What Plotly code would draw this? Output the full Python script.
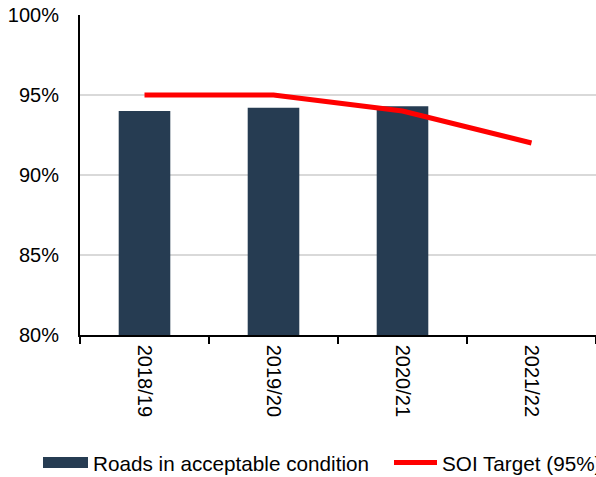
import plotly.graph_objects as go

# Financial years shown on the category axis
years = ["2018/19", "2019/20", "2020/21", "2021/22"]

# Share of roads in acceptable condition (%), no result yet for 2021/22
roads_acceptable = [94.0, 94.2, 94.3, None]

# Statement of Intent target (%)
soi_target = [95, 95, 94, 92]

y_ticks = [80, 85, 90, 95, 100]

BAR_COLOR = "#263c52"
LINE_COLOR = "#ff0000"
FONT = "Liberation Sans, Arial, sans-serif"

W, H = 596, 477
ML, MR, MT, MB = 80, 0, 15, 142
PW, PH = W - ML - MR, H - MT - MB


def px_x(px):
    return (px - ML) / PW


def px_y(py):
    return (H - MB - py) / PH


fig = go.Figure()

fig.add_trace(go.Bar(
    x=years,
    y=roads_acceptable,
    name="Roads in acceptable condition",
    marker=dict(color=BAR_COLOR, line=dict(width=0)),
    width=0.4,
    showlegend=False,
))

fig.add_trace(go.Scatter(
    x=years,
    y=soi_target,
    name="SOI Target (95%)",
    mode="lines",
    line=dict(color=LINE_COLOR, width=5),
    showlegend=False,
))

# Legend drawn below the axis labels
shapes = [
    dict(type="rect", xref="paper", yref="paper",
         x0=px_x(43), x1=px_x(88), y0=px_y(468), y1=px_y(457),
         fillcolor=BAR_COLOR, line=dict(width=0)),
    dict(type="line", xref="paper", yref="paper",
         x0=px_x(394), x1=px_x(437), y0=px_y(462.5), y1=px_y(462.5),
         line=dict(color=LINE_COLOR, width=5)),
]
annotations = [
    dict(text="Roads in acceptable condition", xref="paper", yref="paper",
         x=px_x(91), y=px_y(463), xanchor="left", yanchor="middle",
         showarrow=False, font=dict(family=FONT, size=20.7, color="#000000")),
    dict(text="SOI Target (95%)", xref="paper", yref="paper",
         x=px_x(440), y=px_y(463), xanchor="left", yanchor="middle",
         showarrow=False, font=dict(family=FONT, size=20.7, color="#000000")),
]

fig.update_layout(
    width=W,
    height=H,
    margin=dict(l=ML, r=MR, t=MT, b=MB, pad=0, autoexpand=False),
    paper_bgcolor="white",
    plot_bgcolor="white",
    font=dict(family=FONT, size=20, color="#000000"),
    shapes=shapes,
    annotations=annotations,
    bargap=0.6,
)

fig.update_xaxes(
    type="category",
    tickangle=90,
    tickson="boundaries",
    ticks="outside",
    ticklen=7,
    tickwidth=1.5,
    tickcolor="#000000",
    ticklabelstandoff=4,
    showline=True,
    linecolor="#000000",
    linewidth=1.5,
    showgrid=False,
    automargin=False,
    tickfont=dict(family=FONT, size=20, color="#000000"),
)

fig.update_yaxes(
    range=[80, 100],
    tickvals=y_ticks,
    ticktext=[f"{v}%" for v in y_ticks],
    showline=True,
    linecolor="#000000",
    linewidth=2,
    showgrid=True,
    gridcolor="#d9d9d9",
    gridwidth=1.5,
    zeroline=False,
    ticks="",
    ticklabelstandoff=15,
    automargin=False,
    tickfont=dict(family=FONT, size=20, color="#000000"),
)

fig.write_html("out.html")
